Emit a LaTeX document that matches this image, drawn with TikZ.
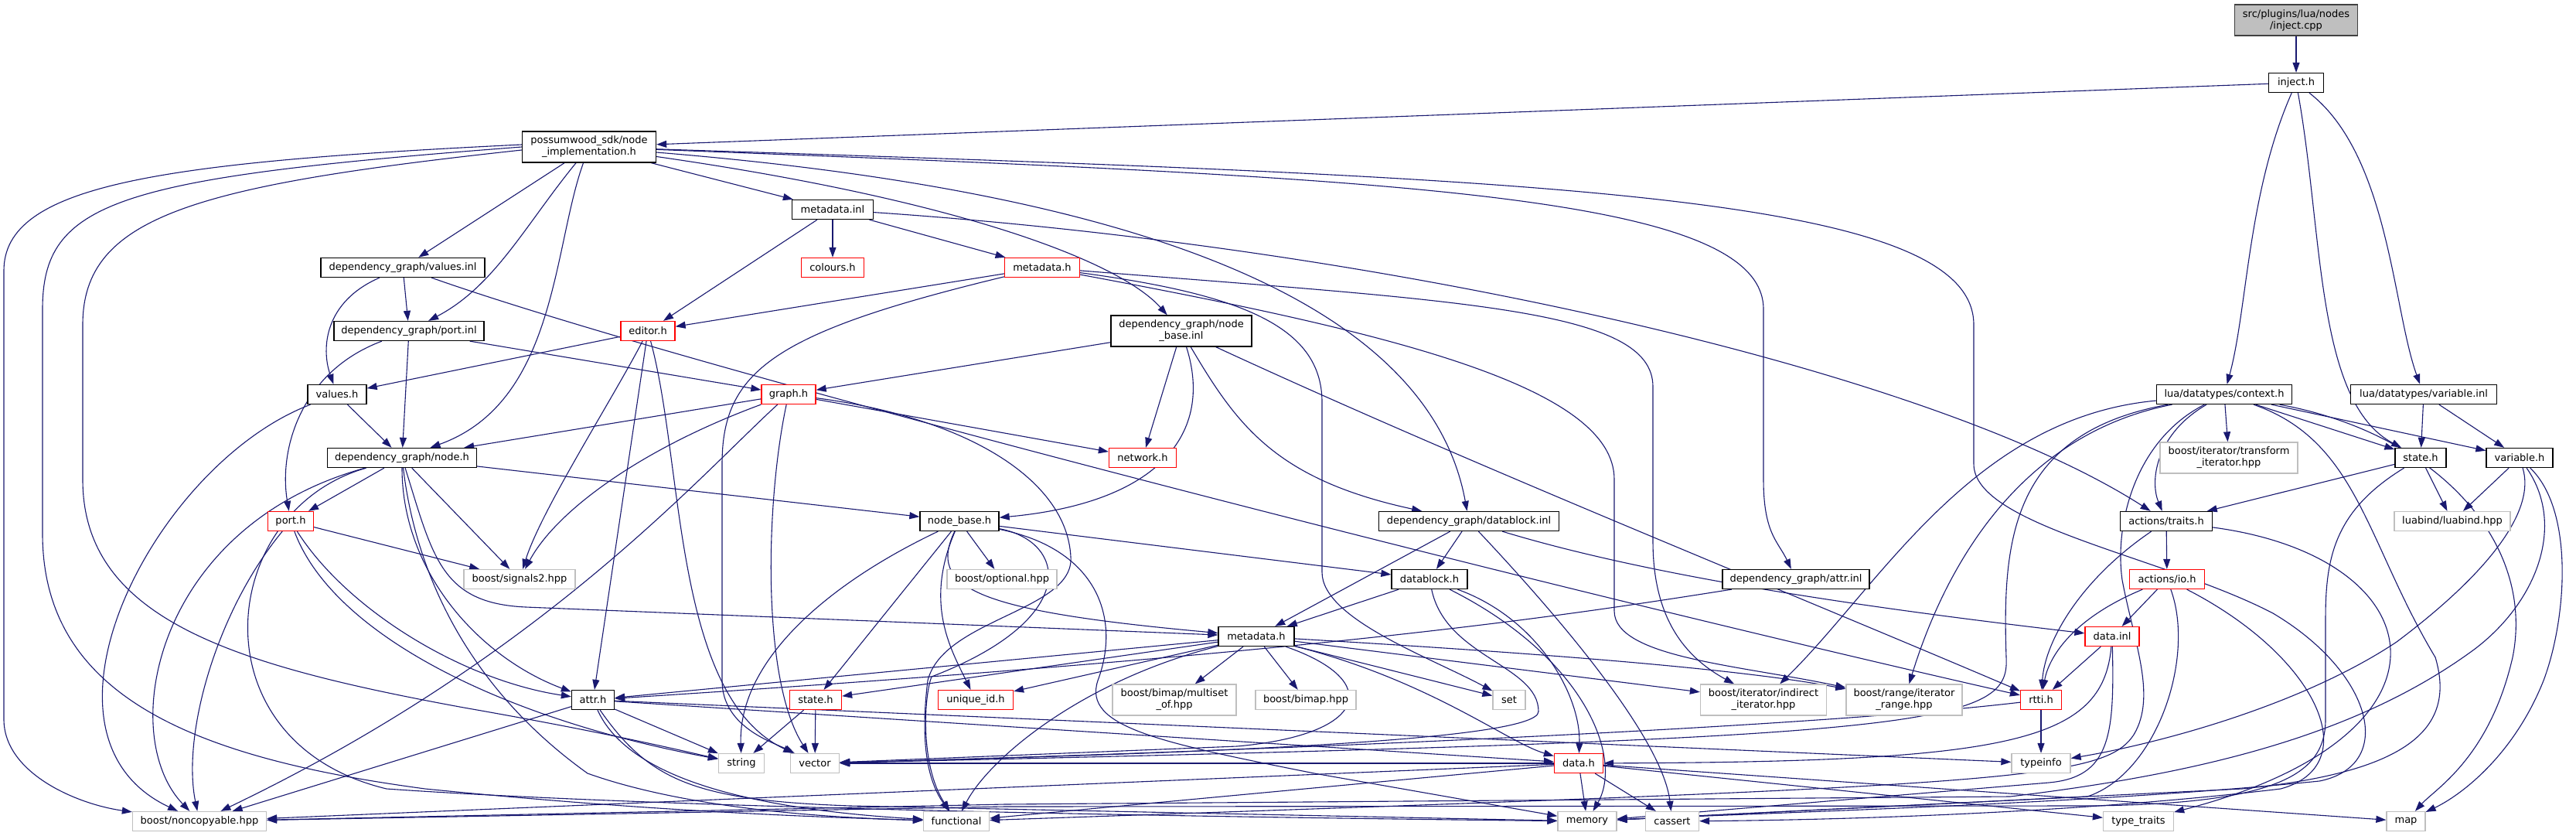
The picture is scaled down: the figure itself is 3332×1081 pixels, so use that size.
\documentclass[tikz,border=0pt]{standalone}
\usepackage{fontspec}
\setmainfont{DejaVu Sans}
\usepackage{tikz}
\usetikzlibrary{arrows.meta,backgrounds}

\definecolor{edgeblue}{HTML}{191970}
\definecolor{greyfill}{HTML}{BFBFBF}
\definecolor{greyline}{HTML}{BFBFBF}

\begin{document}
\begin{tikzpicture}[
      x=1pt, y=-1pt,
      box/.style={rectangle, draw=black, fill=white, line width=1.3pt, align=center, minimum height=25pt, inner xsep=3pt, inner ysep=2pt, font=\fontsize{13}{15}\selectfont},
      redbox/.style={box, draw=red},
      sysbox/.style={box, draw=greyline},
      srcbox/.style={box, fill=greyfill, draw=black!75},
      tall/.style={minimum height=40pt},
      arrow/.style={-{Triangle[length=13pt,width=9pt]}, draw=edgeblue, line width=1.1pt}
    ]
    \useasboundingbox (0,0) rectangle (3332,1081);

    % ============ SOURCE ============
    \node[srcbox, tall, minimum width=159pt] (src) at (2970,26) {src/plugins/lua/nodes\\/inject.cpp};
    \node[box, minimum width=71pt] (injh) at (2970,107) {inject.h};

    % ============ POSSUMWOOD SDK ============
    \node[box, tall, minimum width=173pt] (impl) at (762,190) {possumwood\_sdk/node\\\_implementation.h};
    \node[box, minimum width=105pt] (mdinl) at (1077,271) {metadata.inl};
    \node[redbox, minimum width=81pt] (colours) at (1077,346) {colours.h};
    \node[redbox, minimum width=97pt] (mdsdk) at (1348,346) {metadata.h};
    \node[redbox, minimum width=70pt] (editor) at (838,428) {editor.h};

    % ============ DEPENDENCY GRAPH ============
    \node[box, minimum width=212pt] (values) at (521,346) {dependency\_graph/values.inl};
    \node[box, minimum width=194pt] (portinl) at (529,428) {dependency\_graph/port.inl};
    \node[box, tall, minimum width=182pt] (nbinl) at (1528,428) {dependency\_graph/node\\\_base.inl};
    \node[box, minimum width=76pt] (valuesh) at (436,510) {values.h};
    \node[redbox, minimum width=70pt] (graph) at (1020,510) {graph.h};
    \node[box, minimum width=193pt] (nodeh) at (520,592) {dependency\_graph/node.h};
    \node[redbox, minimum width=87pt] (network) at (1478,592) {network.h};
    \node[redbox, minimum width=59pt] (porth) at (376,674) {port.h};
    \node[box, minimum width=102pt] (nodebase) at (1241,674) {node\_base.h};
    \node[box, minimum width=233pt] (dbinl) at (1900,674) {dependency\_graph/datablock.inl};
    \node[box, minimum width=98pt] (datablock) at (1849,749) {datablock.h};
    \node[box, minimum width=190pt] (attrinl) at (2323,749) {dependency\_graph/attr.inl};
    \node[box, minimum width=98pt] (mddg) at (1625,823) {metadata.h};
    \node[box, minimum width=55pt] (attr) at (767,905) {attr.h};
    \node[redbox, minimum width=67pt] (dgstate) at (1055,905) {state.h};
    \node[redbox, minimum width=97pt] (uid) at (1262,905) {unique\_id.h};
    \node[redbox, minimum width=63pt] (datah) at (2042,987) {data.h};

    % ============ LUA / ACTIONS ============
    \node[box, minimum width=175pt] (ctx) at (2877,510) {lua/datatypes/context.h};
    \node[box, minimum width=189pt] (varinl) at (3135,510) {lua/datatypes/variable.inl};
    \node[box, minimum width=66pt] (luastate) at (3131,592) {state.h};
    \node[box, minimum width=86pt] (variable) at (3259,592) {variable.h};
    \node[box, minimum width=119pt] (traits) at (2802,674) {actions/traits.h};
    \node[redbox, minimum width=97pt] (io) at (2803,749) {actions/io.h};
    \node[redbox, minimum width=70pt] (datainl) at (2732,823) {data.inl};
    \node[redbox, minimum width=53pt] (rtti) at (2640,905) {rtti.h};

    % ============ SYSTEM / BOOST HEADERS ============
    \node[sysbox, tall, minimum width=178pt] (transform) at (2883,592) {boost/iterator/transform\\\_iterator.hpp};
    \node[sysbox, minimum width=150pt] (luabind) at (3172,674) {luabind/luabind.hpp};
    \node[sysbox, minimum width=144pt] (signals) at (672,749) {boost/signals2.hpp};
    \node[sysbox, minimum width=142pt] (optional) at (1296,749) {boost/optional.hpp};
    \node[sysbox, tall, minimum width=160pt] (multiset) at (1519,905) {boost/bimap/multiset\\\_of.hpp};
    \node[sysbox, minimum width=130pt] (bimap) at (1689,905) {boost/bimap.hpp};
    \node[sysbox, minimum width=42pt] (set) at (1952,905) {set};
    \node[sysbox, tall, minimum width=163pt] (indirect) at (2281,905) {boost/iterator/indirect\\\_iterator.hpp};
    \node[sysbox, tall, minimum width=150pt] (range) at (2463,905) {boost/range/iterator\\\_range.hpp};
    \node[sysbox, minimum width=59pt] (string) at (959,987) {string};
    \node[sysbox, minimum width=63pt] (vector) at (1054,987) {vector};
    \node[sysbox, minimum width=76pt] (typeinfo) at (2640,987) {typeinfo};
    \node[sysbox, minimum width=173pt] (noncopy) at (258,1062) {boost/noncopyable.hpp};
    \node[sysbox, minimum width=85pt] (functional) at (1237,1062) {functional};
    \node[sysbox, minimum width=76pt] (memory) at (2053,1062) {memory};
    \node[sysbox, minimum width=69pt] (cassert) at (2163,1062) {cassert};
    \node[sysbox, minimum width=91pt] (typetraits) at (2766,1062) {type\_traits};
    \node[sysbox, minimum width=50pt] (map) at (3112,1062) {map};

    \begin{scope}[on background layer]
      \fill[white] (0,0) rectangle (3332,1081);

      % ============ inject ============
      \draw[arrow] (src) -- (injh);
      \draw[arrow] (injh) -- (impl);
      \draw[arrow] (injh) .. controls (2907,250) and (2907,400) .. (ctx);
      \draw[arrow] (injh) .. controls (3005,300) and (2995,520) .. (luastate);
      \draw[arrow] (injh) .. controls (3090,200) and (3095,400) .. (varinl);

      % ============ node_implementation.h ============
      \draw[arrow] (impl) -- (values);
      \draw[arrow] (impl) .. controls (680,290) and (640,370) .. (portinl);
      \draw[arrow] (impl) .. controls (715,320) and (720,520) .. (nodeh);
      \draw[arrow] (impl) -- (mdinl);
      \draw[arrow] (impl) .. controls (1250,260) and (1450,340) .. (nbinl);
      \draw[arrow] (impl) .. controls (1500,250) and (1850,400) .. (dbinl);
      \draw[arrow] (impl) .. controls (1800,230) and (2281,250) .. (2281,400) -- (2281,620) .. controls (2281,690) and (2300,700) .. (attrinl);
      \draw[arrow] (impl) .. controls (2000,230) and (2553,250) .. (2553,420) -- (2553,600) .. controls (2553,680) and (2800,720) .. (2940,793) .. controls (3070,870) and (3100,990) .. (3000,1010) .. controls (2700,1040) and (2300,1050) .. (memory);
      \draw[arrow] ([yshift=3pt]impl.west) .. controls (200,210) and (5,240) .. (5,350) -- (5,930) .. controls (5,1000) and (100,1040) .. (noncopy);
      \draw[arrow] (impl.west) .. controls (150,230) and (55,260) .. (55,400) -- (55,690) .. controls (55,900) and (250,980) .. (550,1020) .. controls (800,1045) and (1000,1055) .. (functional);
      \draw[arrow] ([yshift=-4pt]impl.west) .. controls (250,240) and (107,280) .. (107,420) -- (107,620) .. controls (107,800) and (300,860) .. (600,915) .. controls (800,950) and (900,975) .. (string);

      % ============ metadata.inl / metadata.h / editor.h ============
      \draw[arrow] (mdinl) -- (colours);
      \draw[arrow] (mdinl) -- (mdsdk);
      \draw[arrow] (mdinl) -- (editor);
      \draw[arrow] (mdinl) .. controls (1800,320) and (2500,480) .. (traits);
      \draw[arrow] (mdsdk) -- (editor);
      \draw[arrow] (mdsdk) .. controls (1000,430) and (934,480) .. (934,600) -- (934,880) .. controls (934,940) and (1000,960) .. (vector);
      \draw[arrow] (mdsdk) .. controls (1600,380) and (1710,420) .. (1710,520) -- (1710,740) .. controls (1710,800) and (1850,850) .. (set);
      \draw[arrow] (mdsdk) .. controls (1900,390) and (2138,400) .. (2138,500) -- (2138,700) .. controls (2138,800) and (2180,850) .. (indirect);
      \draw[arrow] (mdsdk) .. controls (1800,430) and (2088,500) .. (2088,620) -- (2088,790) .. controls (2088,850) and (2250,860) .. (range);
      \draw[arrow] (editor) -- (valuesh);
      \draw[arrow] (editor) .. controls (790,520) and (700,660) .. (signals);
      \draw[arrow] (editor) -- (attr);
      \draw[arrow] (editor) .. controls (885,600) and (870,900) .. (vector);

      % ============ values / port ============
      \draw[arrow] (values) .. controls (420,390) and (415,450) .. (valuesh);
      \draw[arrow] (values) -- (portinl);
      \draw[arrow] (values) .. controls (900,480) and (2000,760) .. (rtti);
      \draw[arrow] (portinl) -- (graph);
      \draw[arrow] (portinl) -- (nodeh);
      \draw[arrow] (portinl) .. controls (390,480) and (360,580) .. (porth);
      \draw[arrow] (valuesh) -- (nodeh);
      \draw[arrow] (valuesh) .. controls (200,600) and (20,950) .. (noncopy);

      % ============ graph.h / node_base.inl ============
      \draw[arrow] (graph) -- (nodeh);
      \draw[arrow] (graph) .. controls (830,580) and (720,660) .. (signals);
      \draw[arrow] (graph) .. controls (900,620) and (700,850) .. (noncopy);
      \draw[arrow] (graph) .. controls (990,650) and (985,880) .. (vector);
      \draw[arrow] (graph) -- (network);
      \draw[arrow] (graph) .. controls (1250,540) and (1380,620) .. (1385,720) .. controls (1390,790) and (1220,800) .. (1200,880) .. controls (1190,960) and (1200,1010) .. (functional);
      \draw[arrow] (nbinl) -- (graph);
      \draw[arrow] (nbinl) -- (network);
      \draw[arrow] (nbinl) .. controls (1570,560) and (1500,650) .. (nodebase);
      \draw[arrow] (nbinl) .. controls (1600,550) and (1650,620) .. (dbinl);
      \draw[arrow] (nbinl) .. controls (1900,600) and (2300,760) .. (rtti);

      % ============ node.h / port.h / attr.h ============
      \draw[arrow] (nodeh) -- (porth);
      \draw[arrow] (nodeh) -- (signals);
      \draw[arrow] (nodeh) .. controls (200,680) and (150,950) .. (noncopy);
      \draw[arrow] (nodeh) .. controls (280,660) and (250,960) .. (500,1020) .. controls (900,1048) and (1700,1058) .. (memory);
      \draw[arrow] (nodeh) .. controls (520,740) and (620,850) .. (attr);
      \draw[arrow] (nodeh) .. controls (540,760) and (620,900) .. (760,1000) .. controls (900,1050) and (1100,1058) .. (functional);
      \draw[arrow] (nodeh) .. controls (560,720) and (570,780) .. (680,785) -- (mddg);
      \draw[arrow] (nodeh) -- (nodebase);
      \draw[arrow] (porth) -- (signals);
      \draw[arrow] (porth) .. controls (280,790) and (235,950) .. (noncopy);
      \draw[arrow] (porth) .. controls (450,790) and (600,880) .. (attr);
      \draw[arrow] (porth) .. controls (430,820) and (650,930) .. (string);
      \draw[arrow] (attr) -- (noncopy);
      \draw[arrow] (attr) -- (string);
      \draw[arrow] (attr) .. controls (810,1000) and (950,1045) .. (functional);
      \draw[arrow] (attr) .. controls (840,1010) and (900,1035) .. (1100,1042) -- (memory);
      \draw[arrow] (attr) -- (datah);
      \draw[arrow] (attr) -- (typeinfo);
      \draw[arrow] (dgstate) -- (string);
      \draw[arrow] (dgstate) -- (vector);

      % ============ node_base.h / datablock ============
      \draw[arrow] (nodebase) -- (optional);
      \draw[arrow] (nodebase) -- (datablock);
      \draw[arrow] (nodebase) .. controls (1200,760) and (1260,790) .. (mddg);
      \draw[arrow] (nodebase) -- (dgstate);
      \draw[arrow] (nodebase) .. controls (1195,780) and (1230,840) .. (uid);
      \draw[arrow] (nodebase) .. controls (1060,760) and (955,860) .. (string);
      \draw[arrow] (nodebase) .. controls (1380,700) and (1400,800) .. (1205,875) .. controls (1195,900) and (1190,990) .. (functional);
      \draw[arrow] (nodebase) .. controls (1420,710) and (1450,800) .. (1420,880) .. controls (1400,940) and (1500,960) .. (1700,1000) -- (memory);
      \draw[arrow] (dbinl) -- (datablock);
      \draw[arrow] (dbinl) -- (mddg);
      \draw[arrow] (dbinl) .. controls (2150,750) and (2450,790) .. (datainl);
      \draw[arrow] (dbinl) .. controls (2000,780) and (2150,950) .. (cassert);
      \draw[arrow] (datablock) -- (mddg);
      \draw[arrow] (datablock) .. controls (1990,800) and (2045,900) .. (datah);
      \draw[arrow] (datablock) .. controls (1870,850) and (1990,860) .. (1990,920) .. controls (1990,960) and (1500,975) .. (vector);
      \draw[arrow] (datablock) .. controls (2050,850) and (2100,980) .. (memory);
      \draw[arrow] (attrinl) .. controls (2000,800) and (1700,845) .. (attr);

      % ============ metadata.h (dependency_graph) ============
      \draw[arrow] (mddg) -- (attr);
      \draw[arrow] (mddg) -- (dgstate);
      \draw[arrow] (mddg) -- (uid);
      \draw[arrow] (mddg) -- (multiset);
      \draw[arrow] (mddg) -- (bimap);
      \draw[arrow] (mddg) -- (set);
      \draw[arrow] (mddg) .. controls (1850,880) and (1950,960) .. (datah);
      \draw[arrow] (mddg) .. controls (1790,880) and (1770,950) .. (1600,965) -- (vector);
      \draw[arrow] (mddg) .. controls (1400,880) and (1280,980) .. (functional);
      \draw[arrow] (mddg) -- (indirect);
      \draw[arrow] (mddg) .. controls (2000,845) and (2250,865) .. (range);

      % ============ data.h / data.inl / rtti.h ============
      \draw[arrow] (datah) -- (vector);
      \draw[arrow] (datah) -- (noncopy);
      \draw[arrow] (datah) -- (functional);
      \draw[arrow] (datah) -- (memory);
      \draw[arrow] (datah) -- (cassert);
      \draw[arrow] (datah) -- (typetraits);
      \draw[arrow] (datah) -- (map);
      \draw[arrow] (datainl) -- (rtti);
      \draw[arrow] (datainl) .. controls (2720,960) and (2600,985) .. (datah);
      \draw[arrow] (datainl) .. controls (2735,950) and (2730,1005) .. (2650,1012) -- (memory);
      \draw[arrow] (rtti) -- (typeinfo);
      \draw[arrow] (rtti) .. controls (2300,945) and (1500,975) .. (vector);

      % ============ actions ============
      \draw[arrow] (traits) -- (io);
      \draw[arrow] (traits) .. controls (2690,750) and (2645,830) .. (rtti);
      \draw[arrow] (traits) .. controls (3150,720) and (3200,950) .. (typetraits);
      \draw[arrow] (io) -- (datainl);
      \draw[arrow] (io) .. controls (2680,800) and (2650,850) .. (rtti);
      \draw[arrow] (io) .. controls (2840,850) and (2790,1000) .. (2700,1030) -- (memory);
      \draw[arrow] (io) .. controls (3000,850) and (3060,990) .. (2950,1020) .. controls (2700,1050) and (2400,1060) .. (cassert);

      % ============ lua datatypes ============
      \draw[arrow] (ctx) -- (transform);
      \draw[arrow] (ctx) .. controls (2790,560) and (2780,620) .. (traits);
      \draw[arrow] (ctx) -- (luastate);
      \draw[arrow] (ctx) -- (variable);
      \draw[arrow] (ctx) .. controls (2550,540) and (2430,760) .. (indirect);
      \draw[arrow] (ctx) .. controls (2620,560) and (2520,720) .. (range);
      \draw[arrow] (ctx) .. controls (2600,560) and (2590,700) .. (2595,850) .. controls (2600,940) and (2500,955) .. (vector);
      \draw[arrow] (ctx) .. controls (2760,570) and (2735,680) .. (2745,750) .. controls (2760,830) and (2790,900) .. (2760,950) .. controls (2720,1010) and (2600,1015) .. (functional);
      \draw[arrow] (ctx) .. controls (3150,560) and (3280,700) .. (3250,850) .. controls (3220,980) and (3150,1020) .. (map);
      \draw[arrow] (ctx) .. controls (3050,570) and (3060,700) .. (3150,850) .. controls (3180,950) and (3100,1000) .. (2900,1020) -- (memory);
      \draw[arrow] (varinl) -- (luastate);
      \draw[arrow] (varinl) -- (variable);
      \draw[arrow] (luastate) -- (traits);
      \draw[arrow] (luastate) -- (luabind);
      \draw[arrow] (luastate) .. controls (3020,660) and (3008,720) .. (3008,800) -- (3008,930) .. controls (3008,1000) and (2950,1040) .. (2700,1042) -- (1300,1043) -- (noncopy);
      \draw[arrow] (variable) -- (luabind);
      \draw[arrow] (variable) .. controls (3280,660) and (3220,740) .. (3100,830) .. controls (2980,910) and (2800,960) .. (typeinfo);
      \draw[arrow] (variable) .. controls (3330,660) and (3320,800) .. (3290,880) .. controls (3250,980) and (3180,1030) .. (map);
      \draw[arrow] (variable) .. controls (3320,680) and (3280,780) .. (3200,840) .. controls (3050,950) and (2850,1000) .. (2600,1030) -- (1300,1040) -- (noncopy);
    \end{scope}

  \end{tikzpicture}
\end{document}
